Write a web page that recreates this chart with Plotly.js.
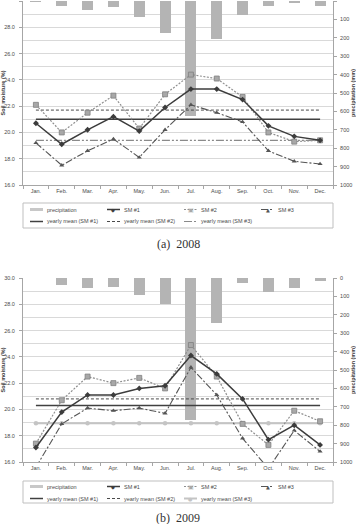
<!DOCTYPE html>
<html>
<head>
<meta charset="utf-8">
<script src="https://cdn.plot.ly/plotly-3.0.1.min.js"></script>
<style>
  html, body { margin: 0; padding: 0; background: #ffffff; }
  #chart { width: 356px; height: 524px; }
</style>
</head>
<body>
<div id="chart"></div>
<script>
// Monthly categories
var months = ['Jan.', 'Feb.', 'Mar.', 'Apr.', 'May.', 'Jun.', 'Jul.', 'Aug.', 'Sep.', 'Oct.', 'Nov.', 'Dec.'];

// 2008: monthly precipitation (mm) and soil moisture (%) at three sites
var precip2008 = [5, 25, 49, 31, 89, 172, 625, 208, 76, 25, 13, 25];
var sm1_2008 = [20.7, 19.1, 20.2, 21.2, 20.1, 21.9, 23.3, 23.3, 22.5, 20.5, 19.7, 19.4];
var sm2_2008 = [22.1, 20.0, 21.5, 22.8, 20.3, 22.9, 24.4, 24.1, 22.7, 20.0, 19.3, 19.4];
var sm3_2008 = [19.2, 17.5, 18.6, 19.5, 18.1, 20.2, 22.1, 21.5, 20.8, 18.6, 17.8, 17.6];
var mean2008 = [21.0, 21.7, 19.4];   // yearly means for SM #1, #2, #3

// 2009
var precip2009 = [0, 38, 53, 47, 93, 142, 769, 247, 25, 78, 53, 16];
var sm1_2009 = [17.1, 19.8, 21.1, 21.1, 21.6, 21.8, 24.1, 22.7, 20.8, 17.7, 18.8, 17.3];
var sm2_2009 = [17.4, 20.7, 22.5, 22.0, 22.4, 21.6, 24.9, 22.5, 18.9, 17.3, 19.9, 19.1];
var sm3_2009 = [15.6, 18.9, 20.1, 19.9, 20.1, 19.7, 23.2, 21.1, 17.8, 15.5, 18.4, 16.8];
var mean2009 = [20.3, 20.8, 18.95];

var W = 356, H = 524;
function px(x) { return x / W; }
function py(y) { return 1 - y / H; }

var tickFont = { family: 'Liberation Sans, Arial, sans-serif', size: 5.5, color: '#4a4a4a' };
var titleFont = { family: 'Liberation Sans, Arial, sans-serif', size: 5.5, color: '#3a3a3a', weight: 'bold' };
var gridCol = '#d9d9d9';
var axisCol = '#a6a6a6';

function flat(v) { return months.map(function () { return v; }); }

// Series styles shared by plot traces and legend symbols
var styles = {
  precip: { color: '#b4b4b4' },
  sm1: { line: { color: '#3c3c3c', width: 1.5 }, marker: { symbol: 'diamond', size: 4.5, color: '#3c3c3c' }, glyph: '\u25C6', gsize: 5 },
  sm2: { line: { color: '#8f8f8f', width: 1.2, dash: '2px,1.5px' }, marker: { symbol: 'square', size: 5, color: '#a8a8a8', line: { color: '#808080', width: 0.8 } }, glyph: '\u25A3', gsize: 6 },
  sm3: { line: { color: '#555555', width: 1.1, dash: '7px,2px,2px,2px' }, marker: { symbol: 'triangle-up', size: 4.5, color: '#555555' }, glyph: '\u25B2', gsize: 5 },
  m1: { line: { color: '#404040', width: 1.5 } },
  m2: { line: { color: '#4a4a4a', width: 1, dash: '3px,2px' } },
  m3a: { line: { color: '#8a8a8a', width: 1.2, dash: '8px,2px,2px,2px,2px,2px' } },
  m3b: { line: { color: '#c4c4c4', width: 2 }, marker: { symbol: 'circle', size: 4.5, color: '#c4c4c4' }, glyph: '\u25CF', gsize: 5 }
};

function panelTraces(xa, yPrecip, ySm, precip, s1, s2, s3, means, m3style) {
  var t = [];
  t.push({ type: 'bar', x: months, y: precip, xaxis: xa, yaxis: yPrecip, name: 'precipitation',
           marker: { color: styles.precip.color }, width: 0.42, hoverinfo: 'y' });
  t.push({ type: 'scatter', mode: 'lines', x: months, y: flat(means[0]), xaxis: xa, yaxis: ySm,
           name: 'yearly mean (SM #1)', line: styles.m1.line });
  t.push({ type: 'scatter', mode: 'lines', x: months, y: flat(means[1]), xaxis: xa, yaxis: ySm,
           name: 'yearly mean (SM #2)', line: styles.m2.line });
  var m3 = { type: 'scatter', mode: m3style.marker ? 'lines+markers' : 'lines', x: months, y: flat(means[2]),
             xaxis: xa, yaxis: ySm, name: 'yearly mean (SM #3)', line: m3style.line };
  if (m3style.marker) m3.marker = m3style.marker;
  t.push(m3);
  t.push({ type: 'scatter', mode: 'lines+markers', x: months, y: s3, xaxis: xa, yaxis: ySm, name: 'SM #3',
           line: styles.sm3.line, marker: styles.sm3.marker });
  t.push({ type: 'scatter', mode: 'lines+markers', x: months, y: s2, xaxis: xa, yaxis: ySm, name: 'SM #2',
           line: styles.sm2.line, marker: styles.sm2.marker });
  t.push({ type: 'scatter', mode: 'lines+markers', x: months, y: s1, xaxis: xa, yaxis: ySm, name: 'SM #1',
           line: styles.sm1.line, marker: styles.sm1.marker });
  t.forEach(function (tr) { tr.showlegend = false; });
  return t;
}

var data = []
  .concat(panelTraces('x', 'y', 'y2', precip2008, sm1_2008, sm2_2008, sm3_2008, mean2008, styles.m3a))
  .concat(panelTraces('x2', 'y3', 'y4', precip2009, sm1_2009, sm2_2009, sm3_2009, mean2009, styles.m3b));

var xDomain = [px(23), px(333)];

function xAxis(anchor) {
  return {
    domain: xDomain, anchor: anchor, type: 'category', range: [-0.5, 11.5],
    tickson: 'boundaries', ticks: 'outside', ticklen: 3, tickcolor: axisCol,
    showline: true, linecolor: axisCol, linewidth: 1, showgrid: false,
    tickfont: tickFont, fixedrange: true
  };
}
function precipAxis(anchor, top, bottom) {
  return {
    domain: [py(bottom), py(top)], anchor: anchor, side: 'right', range: [1000, 0],
    dtick: 100, ticks: 'outside', ticklen: 3, tickcolor: axisCol,
    showline: true, linecolor: axisCol, showgrid: false, zeroline: false,
    tickfont: tickFont, ticklabelstandoff: 2,
    title: { text: 'precipitation (mm)', font: titleFont, standoff: 4 }
  };
}
function smAxis(anchor, over) {
  return {
    overlaying: over, anchor: anchor, side: 'left', range: [16, 30], dtick: 2, tickformat: '.1f',
    ticks: 'outside', ticklen: 3, tickcolor: axisCol,
    showline: true, linecolor: axisCol, showgrid: true, gridcolor: gridCol, gridwidth: 1,
    minor: { dtick: 1, showgrid: true, gridcolor: gridCol, gridwidth: 1 },
    zeroline: false, tickfont: tickFont, ticklabelstandoff: 3,
    title: { text: 'Soil moisture (%)', font: titleFont, standoff: 3 }
  };
}

// Legend boxes drawn as shapes + annotations below each panel
var shapes = [], annotations = [];
function legendBox(top, bottom, row1, row2, m3style) {
  shapes.push({ type: 'rect', xref: 'paper', yref: 'paper', x0: px(23), x1: px(333), y0: py(bottom), y1: py(top),
                line: { color: '#bfbfbf', width: 1 }, fillcolor: 'rgba(0,0,0,0)' });
  var cols = [30, 107, 184, 261];
  var entries = [
    { label: 'precipitation', line: { color: '#c8c8c8', width: 3 }, row: row1, col: 0 },
    { label: 'SM #1', line: styles.sm1.line, st: styles.sm1, row: row1, col: 1 },
    { label: 'SM #2', line: styles.sm2.line, st: styles.sm2, row: row1, col: 2 },
    { label: 'SM #3', line: styles.sm3.line, st: styles.sm3, row: row1, col: 3 },
    { label: 'yearly mean (SM #1)', line: styles.m1.line, row: row2, col: 0 },
    { label: 'yearly mean (SM #2)', line: styles.m2.line, row: row2, col: 1 },
    { label: 'yearly mean (SM #3)', line: m3style.line, st: m3style.glyph ? m3style : null, row: row2, col: 2 }
  ];
  entries.forEach(function (e) {
    var x0 = cols[e.col];
    shapes.push({ type: 'line', xref: 'paper', yref: 'paper', x0: px(x0), x1: px(x0 + 13),
                  y0: py(e.row), y1: py(e.row), line: e.line });
    if (e.st) {
      annotations.push({ xref: 'paper', yref: 'paper', x: px(x0 + 6.5), y: py(e.row), text: e.st.glyph,
                         showarrow: false, xanchor: 'center', yanchor: 'middle',
                         font: { family: 'DejaVu Sans', size: e.st.gsize, color: e.st.marker.color } });
    }
    annotations.push({ xref: 'paper', yref: 'paper', x: px(x0 + 15), y: py(e.row), text: e.label,
                       showarrow: false, xanchor: 'left', yanchor: 'middle',
                       font: { family: 'Liberation Sans, Arial, sans-serif', size: 5.5, color: '#4a4a4a' } });
  });
}
legendBox(203, 228, 209.5, 221.5, styles.m3a);
legendBox(481, 503, 486.5, 498.5, styles.m3b);

var capFont = { family: 'Liberation Serif, DejaVu Serif, serif', size: 12, color: '#333333' };
annotations.push({ xref: 'paper', yref: 'paper', x: 0.5, y: py(244), text: '(a)\u00a0\u00a02008',
                   showarrow: false, xanchor: 'center', yanchor: 'middle', font: capFont });
annotations.push({ xref: 'paper', yref: 'paper', x: 0.5, y: py(518), text: '(b)\u00a0\u00a02009',
                   showarrow: false, xanchor: 'center', yanchor: 'middle', font: capFont });

var layout = {
  width: W, height: H,
  margin: { l: 0, r: 0, t: 0, b: 0 },
  paper_bgcolor: '#ffffff', plot_bgcolor: '#ffffff',
  showlegend: false,
  bargap: 0,
  xaxis: xAxis('y'),
  yaxis: precipAxis('x', 1, 185),
  yaxis2: smAxis('x', 'y'),
  xaxis2: xAxis('y3'),
  yaxis3: precipAxis('x2', 278, 462),
  yaxis4: smAxis('x2', 'y3'),
  shapes: shapes,
  annotations: annotations
};

Plotly.newPlot('chart', data, layout, { staticPlot: true, displayModeBar: false });
</script>
</body>
</html>
